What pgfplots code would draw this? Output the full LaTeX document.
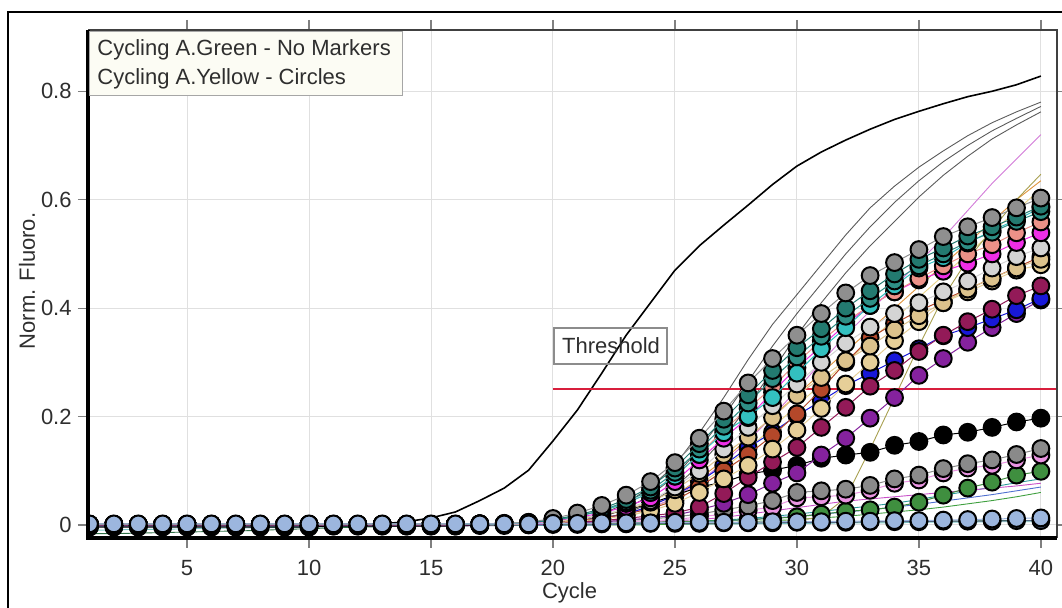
\documentclass[border=0pt]{standalone}
\usepackage{fontspec}
\setmainfont{Liberation Sans}
\usepackage{pgfplots}
\usepackage{pgfplotstable}
\pgfplotsset{compat=1.18}
\definecolor{cA}{HTML}{8F8F8F}
\definecolor{cB}{HTML}{237A70}
\definecolor{cBB}{HTML}{2E8F86}
\definecolor{cC}{HTML}{33C0C0}
\definecolor{cD}{HTML}{EC9188}
\definecolor{cE}{HTML}{EE2EE6}
\definecolor{cF}{HTML}{D4D4D4}
\definecolor{cG}{HTML}{DCC28C}
\definecolor{cH}{HTML}{E6CF98}
\definecolor{cI}{HTML}{B4482A}
\definecolor{cJ}{HTML}{931A58}
\definecolor{cK}{HTML}{1818D8}
\definecolor{cL}{HTML}{85229E}
\definecolor{cM}{HTML}{000000}
\definecolor{cN}{HTML}{8A8A8A}
\definecolor{cO}{HTML}{EA94E2}
\definecolor{cP}{HTML}{3F8F3F}
\definecolor{cQ}{HTML}{9CB6DE}
\definecolor{cR}{HTML}{52627E}
\definecolor{gg}{HTML}{5A5A5A}
\definecolor{gv}{HTML}{D27AD8}
\definecolor{go}{HTML}{A8A050}
\definecolor{gor}{HTML}{E0943C}
\definecolor{gy}{HTML}{E8D48A}
\definecolor{gt}{HTML}{2A9A9A}
\definecolor{gb}{HTML}{5070D0}
\definecolor{gm}{HTML}{C850C8}
\definecolor{ggr}{HTML}{40A040}
\definecolor{gdg}{HTML}{2F6F45}
\definecolor{gc}{HTML}{7CC8C8}
\definecolor{ThresholdRed}{HTML}{D81E3C}
\definecolor{txt}{HTML}{2E2E2E}

\pgfplotstableread{
c A B B2 C D E F G H I J K L M N O P Q R
1 .001 .001 .001 .001 .001 .001 .001 .001 .001 .001 .000 .001 .000 -.004 .001 .000 .000 .002 -.003
2 .001 .001 .001 .001 .001 .001 .001 .001 .001 .001 .000 .001 .000 -.004 .001 .000 .000 .002 -.003
3 .001 .001 .001 .001 .001 .001 .001 .001 .001 .001 .000 .001 .000 -.004 .001 .000 .000 .002 -.003
4 .001 .001 .001 .001 .001 .001 .001 .001 .001 .001 .000 .001 .000 -.004 .001 .000 .000 .002 -.003
5 .001 .001 .001 .001 .001 .001 .001 .001 .001 .001 .000 .001 .000 -.004 .001 .000 .000 .002 -.003
6 .001 .001 .001 .001 .001 .001 .001 .001 .001 .001 .000 .001 .000 -.004 .001 .000 .000 .002 -.003
7 .001 .001 .001 .001 .001 .001 .001 .001 .001 .001 .000 .001 .000 -.004 .001 .000 .000 .002 -.003
8 .001 .001 .001 .001 .001 .001 .001 .001 .001 .001 .000 .001 .000 -.004 .001 .000 .000 .002 -.003
9 .001 .001 .001 .001 .001 .001 .001 .001 .001 .001 .000 .001 .000 -.004 .001 .000 .000 .002 -.003
10 .001 .001 .001 .001 .001 .001 .001 .001 .001 .001 .000 .001 .000 -.004 .001 .000 .000 .002 -.003
11 .001 .001 .001 .001 .001 .001 .001 .001 .001 .001 .000 .001 .000 -.002 .001 .000 .000 .002 -.002
12 .001 .001 .001 .001 .001 .001 .001 .001 .001 .001 .000 .001 .000 -.002 .001 .000 .000 .002 -.002
13 .001 .001 .001 .001 .001 .001 .001 .001 .001 .001 .000 .001 .000 -.002 .001 .000 .000 .002 -.002
14 .001 .001 .001 .001 .001 .001 .001 .001 .001 .001 .000 .001 .000 -.002 .001 .000 .000 .002 -.002
15 .001 .001 .001 .001 .001 .001 .001 .001 .001 .001 .000 .001 .000 -.002 .001 .000 .000 .002 -.002
16 .001 .001 .001 .001 .001 .001 .001 .001 .001 .001 .000 .001 .000 -.002 .001 .000 .000 .002 -.002
17 .002 .002 .002 .002 .002 .002 .002 .002 .001 .001 .001 .001 .000 .000 .001 .000 .000 .002 -.001
18 .003 .002 .002 .002 .002 .002 .002 .002 .001 .001 .001 .001 .001 .002 .001 .001 .000 .002 -.001
19 .005 .004 .004 .004 .004 .003 .003 .003 .002 .002 .001 .002 .001 .004 .002 .001 .001 .002 .000
20 .012 .010 .009 .009 .009 .008 .007 .006 .004 .004 .003 .004 .002 .008 .003 .002 .002 .003 .001
21 .022 .018 .016 .016 .016 .014 .012 .011 .007 .008 .005 .008 .004 .012 .004 .003 .002 .003 .001
22 .036 .030 .027 .026 .026 .022 .019 .018 .011 .013 .008 .013 .006 .018 .006 .004 .003 .004 .002
23 .055 .047 .043 .040 .040 .034 .030 .028 .017 .020 .012 .020 .009 .027 .008 .006 .004 .004 .002
24 .080 .070 .064 .060 .060 .050 .045 .042 .026 .030 .017 .035 .013 .040 .011 .008 .005 .004 .003
25 .115 .105 .097 .090 .090 .080 .070 .065 .040 .045 .022 .055 .018 .055 .015 .010 .006 .005 .003
26 .160 .150 .140 .130 .130 .120 .100 .095 .060 .070 .033 .080 .028 .070 .020 .015 .007 .005 .003
27 .210 .195 .182 .170 .175 .160 .140 .130 .085 .100 .058 .110 .040 .079 .028 .020 .008 .005 .004
28 .262 .240 .225 .200 .215 .198 .180 .162 .110 .130 .088 .143 .056 .094 .035 .027 .010 .005 .004
29 .307 .285 .270 .235 .254 .245 .220 .198 .140 .165 .116 .171 .077 .101 .045 .033 .012 .006 .004
30 .350 .327 .310 .280 .300 .290 .260 .239 .175 .205 .143 .202 .096 .110 .060 .050 .015 .006 .005
31 .390 .362 .348 .325 .340 .330 .300 .272 .215 .250 .180 .229 .129 .123 .063 .052 .020 .006 .005
32 .428 .400 .385 .364 .375 .370 .335 .303 .260 .300 .217 .257 .160 .129 .066 .055 .025 .007 .005
33 .460 .432 .418 .405 .405 .405 .365 .330 .300 .345 .256 .280 .197 .134 .073 .064 .028 .007 .006
34 .484 .463 .450 .441 .430 .430 .390 .360 .340 .372 .285 .303 .235 .147 .085 .077 .033 .008 .006
35 .508 .490 .478 .474 .455 .452 .410 .386 .375 .395 .320 .325 .276 .154 .092 .083 .042 .008 .006
36 .532 .511 .500 .493 .478 .468 .430 .410 .410 .415 .350 .349 .307 .166 .104 .096 .055 .009 .007
37 .550 .533 .522 .520 .500 .483 .450 .435 .430 .435 .375 .364 .337 .171 .113 .105 .068 .010 .007
38 .567 .550 .540 .543 .517 .500 .474 .455 .450 .455 .398 .380 .364 .180 .120 .110 .079 .011 .007
39 .585 .568 .560 .563 .539 .521 .495 .474 .470 .475 .423 .397 .390 .190 .130 .120 .092 .012 .008
40 .603 .588 .578 .585 .559 .539 .511 .490 .480 .495 .441 .418 .415 .197 .141 .129 .099 .013 .008
}\ymarkers

\pgfplotstableread{
c g1 g2 g3 g4 g5 g6 g7 g8 g9 g10 g11 g12 g13 g14
1 .000 .001 .001 .001 .001 .002 .001 .001 .000 .000 .001 .000 -.016 -.010
2 .000 .001 .001 .001 .001 .002 .001 .001 .000 .000 .001 .000 -.016 -.009
3 .000 .001 .001 .001 .001 .002 .001 .001 .000 .000 .001 .000 -.015 -.008
4 .000 .001 .001 .001 .001 .002 .001 .001 .000 .000 .001 .000 -.014 -.008
5 .000 .001 .001 .001 .001 .002 .001 .001 .000 .000 .001 .000 -.013 -.007
6 .000 .001 .001 .001 .001 .002 .001 .001 .000 .000 .001 .000 -.012 -.006
7 .000 .001 .001 .001 .001 .002 .001 .001 .000 .000 .001 .000 -.011 -.006
8 .000 .001 .001 .001 .001 .002 .001 .001 .000 .000 .001 .000 -.010 -.005
9 .000 .001 .001 .001 .001 .002 .001 .001 .000 .000 .001 .000 -.008 -.005
10 .000 .001 .001 .001 .001 .002 .001 .001 .000 .000 .001 .000 -.007 -.004
11 .001 .001 .001 .001 .001 .002 .001 .001 .000 .000 .001 .000 -.005 -.003
12 .001 .001 .001 .001 .001 .002 .001 .001 .000 .000 .001 .000 -.004 -.002
13 .002 .001 .001 .001 .001 .002 .001 .001 .000 .000 .001 .000 -.003 -.002
14 .006 .001 .001 .001 .001 .002 .001 .001 .000 .000 .001 .000 -.002 -.001
15 .013 .001 .001 .001 .001 .002 .001 .001 .000 .000 .001 .000 -.001 .000
16 .024 .001 .001 .001 .001 .002 .001 .001 .000 .000 .001 .000 .000 .000
17 .045 .001 .001 .001 .001 .002 .001 .001 .000 .000 .001 .000 .000 .000
18 .068 .001 .001 .001 .001 .002 .001 .001 .000 .000 .001 .000 .000 .000
19 .101 .002 .002 .001 .002 .002 .002 .002 .000 .000 .001 .000 .000 .000
20 .155 .005 .004 .003 .004 .002 .004 .003 .000 .000 .001 .000 .000 .000
21 .212 .010 .008 .006 .007 .002 .007 .005 .001 .000 .002 .000 .000 .001
22 .280 .020 .015 .012 .012 .002 .012 .008 .002 .000 .003 .000 .000 .001
23 .350 .040 .030 .022 .020 .003 .020 .013 .003 .002 .004 .000 .001 .001
24 .410 .070 .055 .040 .032 .003 .035 .030 .004 .003 .006 .000 .001 .001
25 .470 .110 .090 .070 .050 .003 .055 .050 .005 .004 .008 .002 .001 .002
26 .515 .170 .140 .110 .080 .004 .085 .075 .007 .006 .010 .003 .002 .002
27 .553 .235 .200 .160 .115 .004 .120 .105 .009 .008 .014 .004 .002 .002
28 .590 .305 .265 .220 .155 .005 .160 .140 .012 .010 .020 .006 .003 .002
29 .628 .370 .330 .285 .200 .006 .200 .180 .016 .013 .026 .008 .003 .003
30 .662 .425 .390 .350 .250 .008 .240 .220 .020 .016 .032 .010 .004 .003
31 .688 .480 .445 .410 .300 .015 .280 .260 .025 .020 .038 .013 .004 .003
32 .710 .535 .500 .465 .350 .050 .320 .300 .030 .024 .044 .016 .005 .004
33 .730 .585 .550 .515 .395 .140 .360 .340 .035 .028 .048 .020 .005 .004
34 .748 .625 .595 .560 .440 .235 .400 .380 .040 .033 .052 .024 .006 .004
35 .763 .660 .635 .605 .485 .330 .440 .420 .047 .038 .056 .028 .006 .005
36 .777 .690 .670 .645 .530 .420 .480 .460 .055 .044 .060 .033 .007 .005
37 .790 .718 .700 .680 .580 .490 .520 .500 .062 .050 .064 .039 .007 .005
38 .800 .742 .727 .712 .630 .545 .560 .540 .070 .056 .068 .045 .008 .006
39 .812 .762 .750 .738 .675 .600 .600 .580 .078 .063 .072 .052 .008 .006
40 .828 .780 .772 .762 .720 .647 .635 .620 .085 .070 .077 .060 .008 .006
}\glines

\pgfplotsset{
  ym/.style={color=#1, line width=0.5pt, mark=*, mark size=4.2pt,
    mark options={solid, fill=#1, draw=black, line width=1pt}},
  gl/.style={color=#1, line width=0.45pt, no markers},
}

\begin{document}
\fontsize{11pt}{13pt}\selectfont
\begin{tikzpicture}
\begin{axis}[
  name=ax, at={(0,0)}, anchor=south west,
  scale only axis, width=484.5pt, height=254pt,
  xmin=0.94, xmax=40.66, ymin=-0.024, ymax=0.913,
  xtick={5,10,...,40}, ytick={0,0.2,0.4,0.6,0.8},
  tick align=outside, major tick length=5pt,
  tick style={color=gray, line width=0.6pt},
  grid=major, major grid style={color=black!12, line width=0.5pt},
  axis line style={draw=none},
  /pgf/number format/assume math mode=true,
  tick label style={font=\fontsize{11pt}{13pt}\selectfont, text=txt},
  label style={font=\fontsize{11pt}{13pt}\selectfont, text=txt},
  xticklabel style={anchor=center, inner sep=0pt, yshift=-10pt},
  yticklabel style={anchor=east, inner sep=0pt, xshift=-3pt},
  xlabel={Cycle}, ylabel={Norm. Fluoro.},
  xlabel style={at={(axis description cs:0.497,-0.108)}, anchor=center},
  ylabel style={at={(axis description cs:-0.063,0.506)}, anchor=center},
  clip=true, clip marker paths=true,
]
% Green channel: no markers
\addplot[gl=gdg] table[x=c,y=g13]{\glines};
\addplot[gl=gc] table[x=c,y=g14]{\glines};
\addplot[gl=ggr] table[x=c,y=g12]{\glines};
\addplot[gl=gb] table[x=c,y=g10]{\glines};
\addplot[gl=gt] table[x=c,y=g9]{\glines};
\addplot[gl=gm] table[x=c,y=g11]{\glines};
\addplot[gl=gy] table[x=c,y=g8]{\glines};
\addplot[gl=gor] table[x=c,y=g7]{\glines};
\addplot[gl=go] table[x=c,y=g6]{\glines};
\addplot[gl=gv] table[x=c,y=g5]{\glines};
\addplot[gl=gg] table[x=c,y=g4]{\glines};
\addplot[gl=gg] table[x=c,y=g3]{\glines};
\addplot[gl=gg] table[x=c,y=g2]{\glines};
\addplot[draw=black, line width=0.8pt, no markers] table[x=c,y=g1]{\glines};
% threshold
\addplot[draw=ThresholdRed, line width=1pt, no markers] coordinates {(20,0.25) (40.66,0.25)};
% Yellow channel: circles
\addplot[ym=cR] table[x=c,y=R]{\ymarkers};
\addplot[ym=cP] table[x=c,y=P]{\ymarkers};
\addplot[ym=cO] table[x=c,y=O]{\ymarkers};
\addplot[ym=cN] table[x=c,y=N]{\ymarkers};
\addplot[ym=cM] table[x=c,y=M]{\ymarkers};
\addplot[ym=cL] table[x=c,y=L]{\ymarkers};
\addplot[ym=cK] table[x=c,y=K]{\ymarkers};
\addplot[ym=cJ] table[x=c,y=J]{\ymarkers};
\addplot[ym=cI] table[x=c,y=I]{\ymarkers};
\addplot[ym=cH] table[x=c,y=H]{\ymarkers};
\addplot[ym=cG] table[x=c,y=G]{\ymarkers};
\addplot[ym=cF] table[x=c,y=F]{\ymarkers};
\addplot[ym=cE] table[x=c,y=E]{\ymarkers};
\addplot[ym=cD] table[x=c,y=D]{\ymarkers};
\addplot[ym=cC] table[x=c,y=C]{\ymarkers};
\addplot[ym=cBB] table[x=c,y=B2]{\ymarkers};
\addplot[ym=cB] table[x=c,y=B]{\ymarkers};
\addplot[ym=cA] table[x=c,y=A]{\ymarkers};
\addplot[ym=cQ] table[x=c,y=Q]{\ymarkers};
\end{axis}
% axis frame
\draw[line width=0.8pt, black!75] (ax.north west) -- (ax.north east) -- (ax.south east);
\draw[line width=1.8pt, black] (ax.north west) -- (ax.south west) -- (ax.south east);
% legend box
\draw[fill={rgb,255:red,252;green,252;blue,244}, draw=black!35, line width=0.5pt]
  (0.9pt,221pt) rectangle (157pt,253.4pt);
\node[anchor=west, inner sep=0pt, text=txt] at (4.5pt,244pt) {Cycling A.Green - No Markers};
\node[anchor=west, inner sep=0pt, text=txt] at (4.5pt,229.5pt) {Cycling A.Yellow - Circles};
% threshold label
\draw[draw=black!45, line width=0.6pt] (233pt,87pt) rectangle (289.5pt,105pt);
\node[anchor=center, inner sep=0pt, text=txt] at (261.5pt,96pt) {Threshold};
% outer frame
\draw[line width=1pt, black] (-40pt,-60pt) -- (-40pt,263pt) -- (520pt,263pt);
\pgfresetboundingbox
\useasboundingbox (-44pt,-35pt) rectangle (487pt,269pt);
\end{tikzpicture}
\end{document}
